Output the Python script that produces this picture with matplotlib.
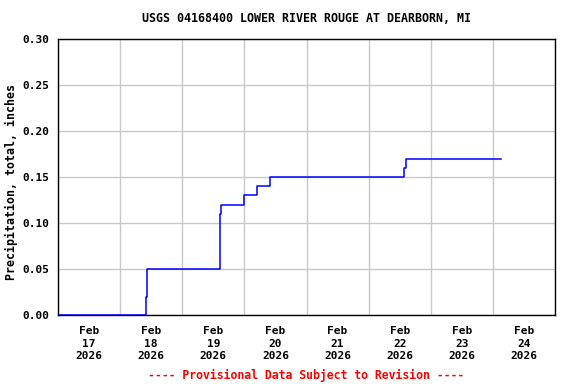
import numpy as np
import matplotlib
matplotlib.use("Agg")
import matplotlib.pyplot as plt
from datetime import datetime

# Данные: накопленные осадки (дюймы) по времени
times = [
    "2026-02-17 00:00", "2026-02-18 10:00", "2026-02-18 10:15", "2026-02-18 10:30",
    "2026-02-19 14:30", "2026-02-19 15:00", "2026-02-20 00:00", "2026-02-20 04:45",
    "2026-02-20 09:45", "2026-02-22 13:45", "2026-02-22 14:30", "2026-02-24 03:15",
]
precip = [0.00, 0.02, 0.04, 0.05, 0.11, 0.12, 0.13, 0.14, 0.15, 0.16, 0.17, 0.17]

day_labels = ["Feb\n17\n2026", "Feb\n18\n2026", "Feb\n19\n2026", "Feb\n20\n2026",
              "Feb\n21\n2026", "Feb\n22\n2026", "Feb\n23\n2026", "Feb\n24\n2026"]

title = "USGS 04168400 LOWER RIVER ROUGE AT DEARBORN, MI"
ylabel = "Precipitation, total, inches"
footer = "---- Provisional Data Subject to Revision ----"

t = [datetime.strptime(s, "%Y-%m-%d %H:%M") for s in times]

plt.rcParams['font.family'] = 'DejaVu Sans Mono'
plt.rcParams['font.weight'] = 'bold'

fig = plt.figure(figsize=(5.76, 3.84), dpi=100)
ax = fig.add_axes([58 / 576, 1 - 315 / 384, 497 / 576, 276 / 384])

ax.step(t, precip, where='post', color='#0000ff', linewidth=1.1, zorder=3)

start = datetime(2026, 2, 17)
end = datetime(2026, 2, 25)
ax.set_xlim(start, end)
ax.set_ylim(0, 0.30)

# Сетка на полночь, подписи в середине дня
days = [datetime(2026, 2, 17 + i) for i in range(9)]
noons = [datetime(2026, 2, 17 + i, 12) for i in range(8)]
ax.set_xticks(days)
ax.set_xticklabels([])
ax.set_xticks(noons, minor=True)
ax.set_xticklabels(day_labels, minor=True, fontsize=8, fontweight='bold', linespacing=1.3)
ax.tick_params(axis='x', which='both', length=0, pad=8)

ax.set_yticks(np.arange(0, 0.301, 0.05))
ax.set_yticklabels([f"{v:.2f}" for v in np.arange(0, 0.301, 0.05)], fontsize=8, fontweight='bold')
ax.tick_params(axis='y', length=0, pad=6)

ax.grid(True, which='major', color='#c8c8c8', linewidth=1.0)
ax.set_axisbelow(True)
for sp in ax.spines.values():
    sp.set_linewidth(1.0)
    sp.set_color('black')

ax.set_ylabel(ylabel, fontsize=8.4, fontweight='bold')
ax.yaxis.set_label_coords((18 - 58) / 497, (315 - 182) / 276)
fig.text((58 + 555) / 2 / 576, 1 - 19 / 384, title, ha='center', va='center',
         fontsize=8.4, fontweight='bold')
fig.text(306 / 576, 1 - 375 / 384, footer, ha='center', va='center',
         fontsize=8.3, fontweight='bold', color='red')

fig.savefig("out.png", dpi=100)
